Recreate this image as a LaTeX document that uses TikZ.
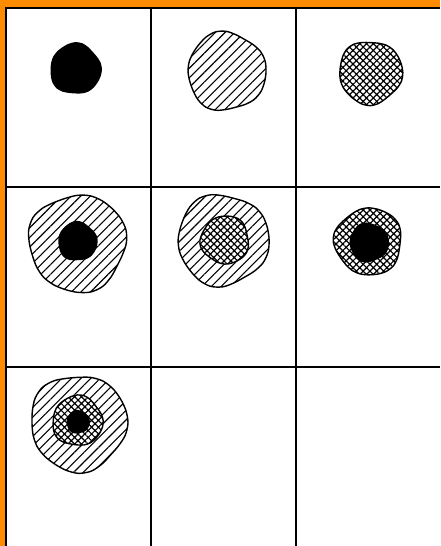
\documentclass[tikz,border=0pt]{standalone}
\usetikzlibrary{patterns.meta}
\definecolor{randorange}{HTML}{FF8C00}

% unregelmaessiger Fleck: Stil, x, y, Radius, Phase
\newcommand{\fleck}[5]{%
  \draw[#1] plot[smooth cycle, domain=0:345, samples=24, variable=\t]
    ({#2+#4*(1+0.035*sin(3*\t+#5)+0.025*cos(5*\t+2*#5))*cos(\t)},
     {#3+#4*(1+0.035*sin(3*\t+#5)+0.025*cos(5*\t+2*#5))*sin(\t)});
}

\begin{document}
\begin{tikzpicture}[x=1pt, y=-1pt,
                gitter/.style={draw=black, line width=2pt},
                schwarz/.style={draw=black, line width=1.4pt, fill=black},
                schraffiert/.style={draw=black, line width=1.4pt, preaction={fill=white}, pattern={Lines[angle=45, distance=6.8pt, line width=1.1pt]}},
                kariert/.style={draw=black, line width=1.4pt, preaction={fill=white}, pattern={Hatch[angle=45, distance=4.8pt, line width=1.2pt]}}
            ]
            \useasboundingbox (0,0) rectangle (440,546);

            % Rand
            \fill[randorange] (0,0) rectangle (440,7.5);
            \fill[randorange] (0,0) rectangle (5.5,546);

            % Raster
            \draw[gitter] (6,546) -- (6,8) -- (440,8);
            \draw[gitter] (151,8) -- (151,546);
            \draw[gitter] (296,8) -- (296,546);
            \draw[gitter] (6,187) -- (440,187);
            \draw[gitter] (6,367) -- (440,367);

            % Zeile 1
            \fleck{schwarz}{75.5}{69}{25}{20}
            \fleck{schraffiert}{226.5}{71.5}{39}{70}
            \fleck{kariert}{370.5}{72.5}{31.5}{140}

            % Zeile 2
            \fleck{schraffiert}{77.5}{243}{48.5}{200}
            \fleck{schwarz}{77.5}{241.5}{19}{40}
            \fleck{schraffiert}{223}{240}{45.5}{110}
            \fleck{kariert}{225}{240}{24}{300}
            \fleck{kariert}{368.5}{241.5}{33.5}{250}
            \fleck{schwarz}{369}{242.5}{19}{90}

            % Zeile 3
            \fleck{schraffiert}{78.5}{423}{48}{160}
            \fleck{kariert}{77.5}{421}{25}{10}
            \fleck{schwarz}{78}{422}{11}{60}

        \end{tikzpicture}
\end{document}
